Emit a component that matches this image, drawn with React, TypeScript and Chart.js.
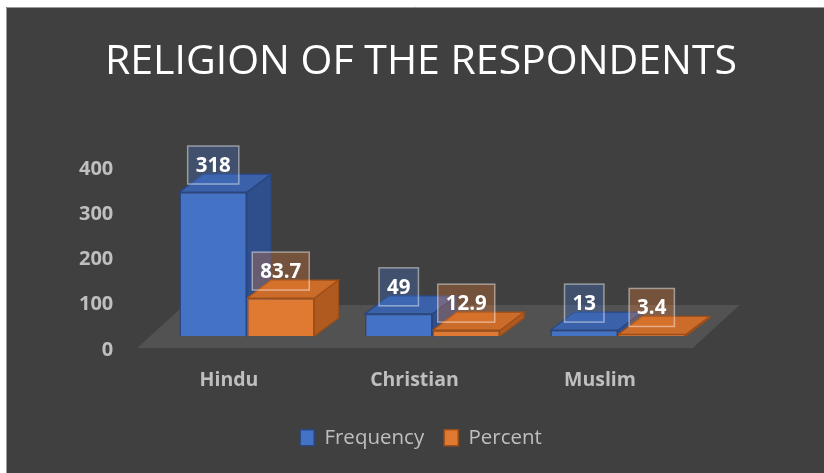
import React, { useEffect, useRef } from "react";
import { Chart, registerables } from "chart.js";

Chart.register(...registerables);

const categories = ["Hindu", "Christian", "Muslim"];
const frequency = [318, 49, 13];
const percent = [83.7, 12.9, 3.4];
const frequencyLabels = ["318", "49", "13"];
const percentLabels = ["83.7", "12.9", "3.4"];
const yTicks = [0, 100, 200, 300, 400];

const DX = 24;
const DY = -18;

const faceColors = [
  { side: "#2f4f8c", top: "#3a61aa", border: "#2a4680", label: "rgba(68,114,196,0.35)" },
  { side: "#b15a1f", top: "#cc6c2a", border: "#9e4e18", label: "rgba(237,125,49,0.30)" },
];

const backgroundPlugin = {
  id: "bg3d",
  beforeDraw(chart: any) {
    const { ctx, width, height } = chart;
    ctx.save();
    ctx.fillStyle = "#ffffff";
    ctx.fillRect(0, 0, width, height);
    ctx.fillStyle = "#404040";
    ctx.fillRect(6, 7, width - 6, height - 7);
    ctx.strokeStyle = "#9a9a9a";
    ctx.lineWidth = 1;
    ctx.beginPath();
    ctx.moveTo(6.5, height);
    ctx.lineTo(6.5, 7.5);
    ctx.lineTo(width, 7.5);
    ctx.stroke();
    ctx.restore();
  },
  beforeDatasetsDraw(chart: any) {
    const { ctx, chartArea } = chart;
    const b = chartArea.bottom;
    ctx.save();
    // floor
    ctx.fillStyle = "#525252";
    ctx.beginPath();
    ctx.moveTo(chartArea.left - 17, b + 12);
    ctx.lineTo(chartArea.right - 18, b + 12);
    ctx.lineTo(chartArea.right + 29, b - 31);
    ctx.lineTo(chartArea.left + 30, b - 31);
    ctx.closePath();
    ctx.fill();
    // depth faces
    const n = categories.length;
    for (let i = 0; i < n; i++) {
      for (let d = 0; d < chart.data.datasets.length; d++) {
        const el: any = chart.getDatasetMeta(d).data[i];
        if (!el) continue;
        const { x, y, base, width } = el.getProps(["x", "y", "base", "width"], true);
        const l = x - width / 2;
        const r = x + width / 2;
        const c = faceColors[d];
        ctx.lineWidth = 1.2;
        ctx.strokeStyle = c.border;
        // side
        ctx.fillStyle = c.side;
        ctx.beginPath();
        ctx.moveTo(r, y);
        ctx.lineTo(r + DX, y + DY);
        ctx.lineTo(r + DX, base + DY);
        ctx.lineTo(r, base);
        ctx.closePath();
        ctx.fill();
        ctx.stroke();
        // top
        ctx.fillStyle = c.top;
        ctx.beginPath();
        ctx.moveTo(l, y);
        ctx.lineTo(l + DX, y + DY);
        ctx.lineTo(r + DX, y + DY);
        ctx.lineTo(r, y);
        ctx.closePath();
        ctx.fill();
        ctx.stroke();
      }
    }
    ctx.restore();
  },
  afterDatasetsDraw(chart: any) {
    const { ctx } = chart;
    const labelSets = [frequencyLabels, percentLabels];
    ctx.save();
    ctx.font = "bold 20.5px 'Open Sans'";
    ctx.textAlign = "center";
    ctx.textBaseline = "middle";
    for (let d = 0; d < chart.data.datasets.length; d++) {
      const meta = chart.getDatasetMeta(d);
      meta.data.forEach((el: any, i: number) => {
        const { x, y } = el.getProps(["x", "y"], true);
        const txt = labelSets[d][i];
        const w = ctx.measureText(txt).width + 16;
        const h = 38;
        const bottom = y - 8;
        const top = bottom - h;
        ctx.fillStyle = faceColors[d].label;
        ctx.fillRect(x - w / 2, top, w, h);
        ctx.strokeStyle = "rgba(255,255,255,0.45)";
        ctx.lineWidth = 1.5;
        ctx.strokeRect(x - w / 2, top, w, h);
        ctx.fillStyle = "#ffffff";
        ctx.fillText(txt, x, top + h / 2 + 1);
      });
    }
    ctx.restore();
  },
};

export default function App() {
  const ref = useRef<HTMLCanvasElement>(null);
  useEffect(() => {
    if (!ref.current) return;
    Chart.defaults.font.family = "'Open Sans', sans-serif";
    const chart = new Chart(ref.current, {
      type: "bar",
      data: {
        labels: categories,
        datasets: [
          {
            label: "Frequency",
            data: frequency,
            backgroundColor: "#4472c4",
            borderColor: "#2a4680",
            borderWidth: 1.5,
            categoryPercentage: 0.728,
            barPercentage: 1,
          },
          {
            label: "Percent",
            data: percent,
            backgroundColor: "#e07a33",
            borderColor: "#9e4e18",
            borderWidth: 1.5,
            categoryPercentage: 0.728,
            barPercentage: 1,
          },
        ],
      },
      options: {
        responsive: false,
        maintainAspectRatio: false,
        animation: false,
        layout: { padding: { top: 7, left: 18, right: 0, bottom: 15 } },
        plugins: {
          tooltip: { enabled: false },
          title: {
            display: true,
            text: "RELIGION OF THE RESPONDENTS",
            color: "#ffffff",
            font: { size: 41, weight: "normal", family: "'Open Sans', sans-serif" },
            padding: { top: 30.5, bottom: 68.2 },
          },
          legend: {
            display: true,
            position: "bottom",
            labels: {
              color: "#bfbfbf",
              font: { size: 20.5 },
              boxWidth: 14,
              boxHeight: 16,
              padding: 20,
            },
          },
        },
        scales: {
          x: {
            grid: { display: false, drawTicks: false },
            border: { display: false },
            ticks: {
              color: "#bfbfbf",
              font: { size: 19.5, weight: "bold" },
              padding: 32.3,
              labelOffset: -18,
            },
            afterFit: (scale: any) => {
              scale.height = 71.5;
            },
          },
          y: {
            min: 0,
            max: 400,
            afterBuildTicks: (scale: any) => {
              scale.ticks = yTicks.map((v) => ({ value: v }));
            },
            grid: { display: false, drawTicks: false },
            border: { display: false },
            ticks: {
              color: "#bfbfbf",
              font: { size: 20, weight: "bold" },
              padding: 41,
              labelOffset: 14,
            },
            afterFit: (scale: any) => {
              scale.width = 136.25;
            },
          },
          yRight: {
            position: "right",
            display: true,
            grid: { display: false, drawTicks: false },
            border: { display: false },
            ticks: { display: false },
            afterFit: (scale: any) => {
              scale.width = 113.25;
            },
          },
        },
      },
      plugins: [backgroundPlugin],
    });
    return () => chart.destroy();
  }, []);
  return (
    <div style={{ position: "absolute", left: 0, top: 0 }}>
      <canvas ref={ref} width={824} height={473} style={{ display: "block" }} />
    </div>
  );
}
